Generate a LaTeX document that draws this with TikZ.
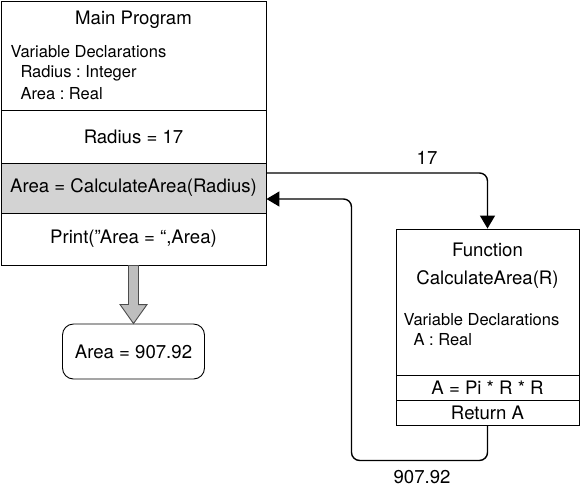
\documentclass[tikz,border=0pt]{standalone}
\usepackage{fontspec}
\setmainfont{TeX Gyre Heros}
\usetikzlibrary{arrows.meta,calc}

\definecolor{callgray}{RGB}{211,211,211}
\definecolor{blockgray}{RGB}{190,190,190}

\tikzset{
    box/.style={draw, line width=0.9pt, inner sep=0pt, minimum width=#1},
    box/.default=265,
    decl/.style={anchor=west, font=\fontsize{16.5}{19}\selectfont},
    flow/.style={line width=1.4pt, rounded corners=8, -{Triangle[length=13pt,width=15pt]}}
}

\begin{document}
\frenchspacing
\begin{tikzpicture}[x=1pt,y=-1pt,font=\fontsize{18.6}{21}\selectfont]
            % main program
            \useasboundingbox (0,0) rectangle (580,491);

            \node[box, minimum height=109] at (133.5,55.5) (mainhead) {};
            \node[box, minimum height=53] at (133.5,136.5) (radius) {Radius = 17};
            \node[box, minimum height=50, fill=callgray] at (133.5,188) (call) {Area = CalculateArea(Radius)};
            \node[box, minimum height=52] at (133.5,239) (print) {Print(”Area = “,Area)};

            \node (mainname) at (133.5,20) {Main Program};
            \node[decl] (maindecl) at (7,52) {Variable Declarations};
            \node[decl] (mainradius) at (17,73) {Radius : Integer};
            \node[decl] (mainarea) at (17,94) {Area : Real};

            % result
            \node[draw, line width=0.9pt, rounded corners=11, minimum width=142, minimum height=55] at (133.5,351.5) (result) {Area = 907.92};

            % function
            \node[box=183, minimum height=146] at (487.5,302) (funchead) {};
            \node[box=183, minimum height=25] at (487.5,387.5) (calc) {A = Pi * R * R};
            \node[box=183, minimum height=25] at (487.5,412.5) (ret) {Return A};

            \node (funcname) at (487.5,250) {Function};
            \node (funcsig) at (487.5,280) {CalculateArea(R)};
            \node[decl] (funcdecl) at (400,320) {Variable Declarations};
            \node[decl] (funca) at (410,340) {A : Real};

            \node (argval) at (427,158) {17};
            \node (retval) at (422,477) {907.92};

            %
            \draw[flow] ($(call.east)+(0,-15)$) -| (funchead.north);
            \draw[flow] (ret.south) |- ++(-136,35) |- ($(call.east)+(0,11)$);

            \draw[line width=0.9pt, draw=black!70, fill=blockgray] (print.south) ++(-5,0) -- ++(0,39) -- ++(-8.5,0) -- (result.north) -- ++(13.5,-19) -- ++(-8.5,0) -- ++(0,-39) -- cycle;
        \end{tikzpicture}
\end{document}
